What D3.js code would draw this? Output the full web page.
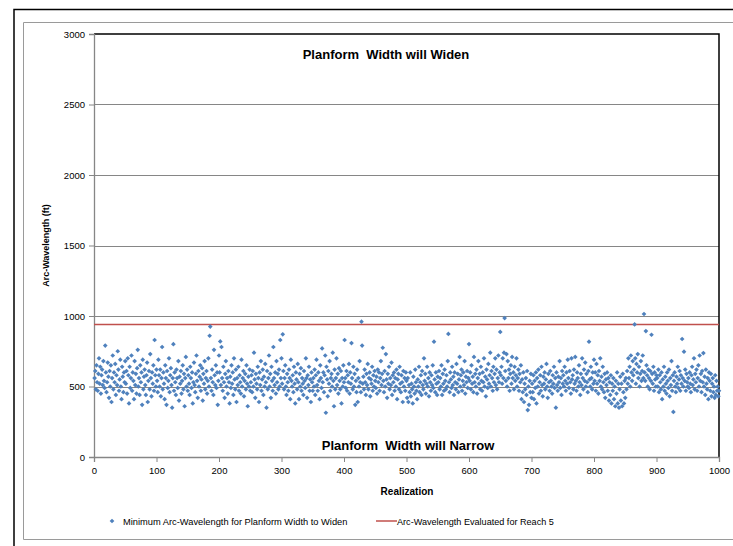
<!DOCTYPE html>
<html>
<head>
<meta charset="utf-8">
<script src="https://cdn.jsdelivr.net/npm/d3@7"></script>
<style>
  html, body { margin: 0; padding: 0; background: #fff; }
  svg { display: block; }
  text { font-family: "Liberation Sans", Arial, sans-serif; fill: #000; }
</style>
</head>
<body>
<svg id="chart" width="733" height="546"></svg>
<script>
// Minimum arc-wavelength (ft) for each of the 1000 realizations, in order
const arcWavelength = [
  560,610,480,650,530,470,590,700,520,640,450,580,620,510,680,540,490,790,600,460,530,670,570,420,610,500,650,390,560,720,480,600,530,660,440,580,510,750,620,470,550,690,500,410,640,570,460,600,530,680,
  520,610,450,700,580,380,640,490,560,720,470,600,540,410,680,510,590,450,630,760,500,560,440,650,530,600,370,690,480,570,620,510,440,580,670,390,540,610,480,730,560,430,600,520,650,470,830,580,500,620,
  540,460,690,580,500,620,430,560,780,480,600,520,410,650,560,370,610,490,540,700,460,580,630,510,350,560,800,470,600,530,440,620,560,490,680,400,570,520,610,450,540,650,480,590,360,560,710,500,620,470,
  580,520,440,640,560,490,600,380,530,670,510,460,590,720,540,420,610,500,570,650,470,550,630,400,590,520,680,480,560,610,450,540,700,500,860,925,560,470,620,530,440,760,580,510,650,490,600,370,540,720,
  600,820,510,780,560,470,640,530,420,590,680,500,560,450,610,530,380,570,490,650,520,600,440,700,550,480,620,390,560,510,640,470,580,530,450,690,500,560,610,430,540,590,480,650,520,360,570,500,620,470,
  530,580,460,610,500,740,550,420,590,520,480,640,560,390,600,510,680,470,550,620,440,570,500,660,530,350,610,480,560,720,500,590,420,640,540,470,780,560,510,600,450,680,530,590,480,620,500,830,560,700,
  520,870,610,480,560,650,500,440,590,530,470,620,560,410,690,540,500,580,460,640,520,380,600,550,480,660,530,410,590,500,630,470,560,520,440,610,540,490,700,560,420,580,510,640,470,550,390,600,530,470,
  560,500,620,440,580,690,510,470,600,540,410,650,560,490,770,530,600,460,580,720,314,640,550,430,610,520,680,470,560,590,500,740,540,360,620,480,560,700,510,590,450,630,540,480,610,380,560,500,650,530,
  830,560,490,610,470,580,530,660,450,600,520,808,560,480,640,500,590,370,540,460,620,390,560,500,680,530,460,960,790,520,570,480,620,530,440,590,510,660,480,560,600,430,550,520,640,470,580,500,610,540,
  490,570,450,620,530,600,470,560,680,510,590,775,540,460,610,500,730,550,420,590,520,640,480,560,510,670,440,580,530,600,470,560,500,620,410,550,590,480,640,520,460,580,530,390,610,500,560,470,600,540,
  420,560,390,510,460,600,430,520,480,380,570,500,450,620,530,470,410,550,500,640,460,530,580,440,610,510,480,700,540,590,450,520,640,500,560,430,600,530,470,580,510,650,490,818,550,460,600,520,440,570,
  530,610,480,560,500,650,440,590,520,470,620,540,480,580,500,680,873,530,460,600,550,490,640,510,570,440,600,530,480,660,520,590,460,550,710,500,580,620,470,540,600,510,680,450,570,530,610,490,560,801,
  540,600,480,650,520,570,460,710,530,590,500,620,450,560,680,520,590,480,640,540,470,600,530,700,500,570,430,620,550,490,660,520,580,740,500,610,560,470,640,530,590,700,510,620,480,560,720,530,600,887,
  580,640,520,700,560,740,985,610,540,730,500,680,560,620,470,590,650,520,710,560,600,480,640,540,580,700,500,560,620,470,590,530,650,410,550,460,600,390,520,480,560,440,610,333,500,370,540,460,590,420,
  520,460,580,410,540,490,600,380,560,500,620,450,530,580,470,640,510,430,570,520,600,480,550,660,500,420,590,530,470,610,540,500,450,580,520,640,490,560,350,600,510,470,570,530,680,490,560,440,610,520,
  580,500,640,540,470,600,520,690,560,490,610,530,450,700,550,580,480,620,520,710,540,470,600,560,500,650,530,440,590,510,700,560,480,620,540,670,500,590,530,460,610,818,550,500,640,560,480,600,520,690,
  540,600,470,660,520,580,450,610,540,700,500,570,480,640,530,460,590,420,550,510,600,470,560,400,530,440,580,380,520,470,560,410,500,360,540,450,600,380,520,350,480,570,400,520,360,590,460,380,540,420,
  560,480,610,520,700,560,640,500,720,600,540,680,580,620,940,700,520,660,600,730,560,640,500,590,680,540,610,720,560,1014,600,540,893,650,580,500,620,560,480,610,540,867,590,520,640,470,600,550,500,580,
  560,500,620,460,580,530,480,600,410,550,500,640,470,570,520,450,600,540,490,620,430,560,510,680,470,580,320,540,600,500,460,570,520,640,490,550,610,470,580,520,837,560,500,747,540,620,470,590,530,500,
  560,490,600,520,460,580,640,510,550,700,480,590,530,620,470,560,650,500,720,540,590,460,610,530,737,500,570,440,620,520,480,560,410,600,540,470,590,430,520,560,460,500,420,580,440,540,470,500,430,470
];

// Arc-wavelength evaluated for Reach 5 (ft)
const reachWavelength = 940;

const yTicks = [0, 500, 1000, 1500, 2000, 2500, 3000];
const xTicks = [0, 100, 200, 300, 400, 500, 600, 700, 800, 900, 1000];

const labels = {
  widen: "Planform  Width will Widen",
  narrow: "Planform  Width will Narrow",
  xTitle: "Realization",
  yTitle: "Arc-Wavelength (ft)",
  seriesPoints: "Minimum Arc-Wavelength for Planform Width to Widen",
  seriesLine: "Arc-Wavelength Evaluated for Reach 5"
};

const points = arcWavelength.map((v, i) => ({ realization: i + 1, value: v }));

const svg = d3.select("#chart");
const plot = { left: 94, right: 719, top: 34, bottom: 457 };
const blue = "#4f81bd";
const red = "#c0504d";
const grid = "#868686";

const x = d3.scaleLinear().domain([0, 1000]).range([plot.left, plot.right]);
const y = d3.scaleLinear().domain([0, 3000]).range([plot.bottom, plot.top]);

// Outer frames
svg.append("path")
  .attr("d", "M14,546 V9.5 H733")
  .attr("fill", "none").attr("stroke", "#000").attr("stroke-width", 1.5);
svg.append("path")
  .attr("d", "M23.5,539.5 V22.5 H733 M23.5,539.5 H733")
  .attr("fill", "none").attr("stroke", "#9a9a9a").attr("stroke-width", 1);

// Horizontal gridlines
svg.append("g")
  .selectAll("line")
  .data(yTicks.filter(t => t > 0 && t < 3000))
  .join("line")
  .attr("x1", plot.left).attr("x2", plot.right)
  .attr("y1", d => Math.round(y(d)) + 0.5).attr("y2", d => Math.round(y(d)) + 0.5)
  .attr("stroke", grid).attr("stroke-width", 1);

// Plot border: black top and right edges
svg.append("path")
  .attr("d", `M${plot.left},${y(3000)} H${plot.right} V${plot.bottom}`)
  .attr("fill", "none").attr("stroke", "#000").attr("stroke-width", 1.5);

// Axes
const yAxis = d3.axisLeft(y).tickValues(yTicks).tickSize(5).tickPadding(4).tickFormat(d3.format("d"));
const xAxis = d3.axisBottom(x).tickValues(xTicks).tickSize(5).tickPadding(5).tickFormat(d3.format("d"));

const gy = svg.append("g").attr("transform", `translate(${plot.left},0)`).call(yAxis);
const gx = svg.append("g").attr("transform", `translate(0,${plot.bottom})`).call(xAxis);
[gx, gy].forEach(g => {
  g.selectAll(".domain").attr("stroke", grid).attr("stroke-width", 1.3);
  g.selectAll(".tick line").attr("stroke", grid).attr("stroke-width", 1);
  g.selectAll(".tick text").attr("font-size", 9.5).attr("font-family", "Liberation Sans, Arial, sans-serif").attr("fill", "#333");
});

// Reference line for Reach 5
svg.append("line")
  .attr("x1", plot.left).attr("x2", plot.right)
  .attr("y1", y(reachWavelength)).attr("y2", y(reachWavelength))
  .attr("stroke", red).attr("stroke-width", 1.5);

// Scatter of realizations
const diamond = d3.symbol().type(d3.symbolSquare).size(11);
svg.append("g")
  .selectAll("path")
  .data(points)
  .join("path")
  .attr("d", diamond)
  .attr("transform", d => `translate(${x(d.realization)},${y(d.value)}) rotate(45)`)
  .attr("fill", blue);

// Region annotations
svg.append("text")
  .attr("x", 386).attr("y", 59)
  .attr("text-anchor", "middle").attr("font-size", 13).attr("font-weight", "bold")
  .attr("fill", "#1a1a1a")
  .style("white-space", "pre")
  .text(labels.widen);
svg.append("text")
  .attr("x", 408).attr("y", 450)
  .attr("text-anchor", "middle").attr("font-size", 13).attr("font-weight", "bold")
  .attr("fill", "#1a1a1a")
  .style("white-space", "pre")
  .text(labels.narrow);

// Axis titles
svg.append("text")
  .attr("x", 407).attr("y", 495)
  .attr("text-anchor", "middle").attr("font-size", 10).attr("font-weight", "bold")
  .text(labels.xTitle);
svg.append("text")
  .attr("transform", `translate(49,${(plot.top + plot.bottom) / 2}) rotate(-90)`)
  .attr("text-anchor", "middle").attr("font-size", 9).attr("font-weight", "bold")
  .text(labels.yTitle);

// Legend
const legend = svg.append("g").attr("transform", "translate(0,521)");
legend.append("path")
  .attr("d", diamond)
  .attr("transform", "translate(112,0) rotate(45)")
  .attr("fill", blue);
legend.append("text")
  .attr("x", 123).attr("y", 3.5).attr("font-size", 9.3).attr("fill", "#333")
  .text(labels.seriesPoints);
legend.append("line")
  .attr("x1", 376).attr("x2", 397).attr("y1", 0).attr("y2", 0)
  .attr("stroke", red).attr("stroke-width", 1.5);
legend.append("text")
  .attr("x", 397).attr("y", 3.5).attr("font-size", 9.1).attr("fill", "#333")
  .text(labels.seriesLine);
</script>
</body>
</html>
